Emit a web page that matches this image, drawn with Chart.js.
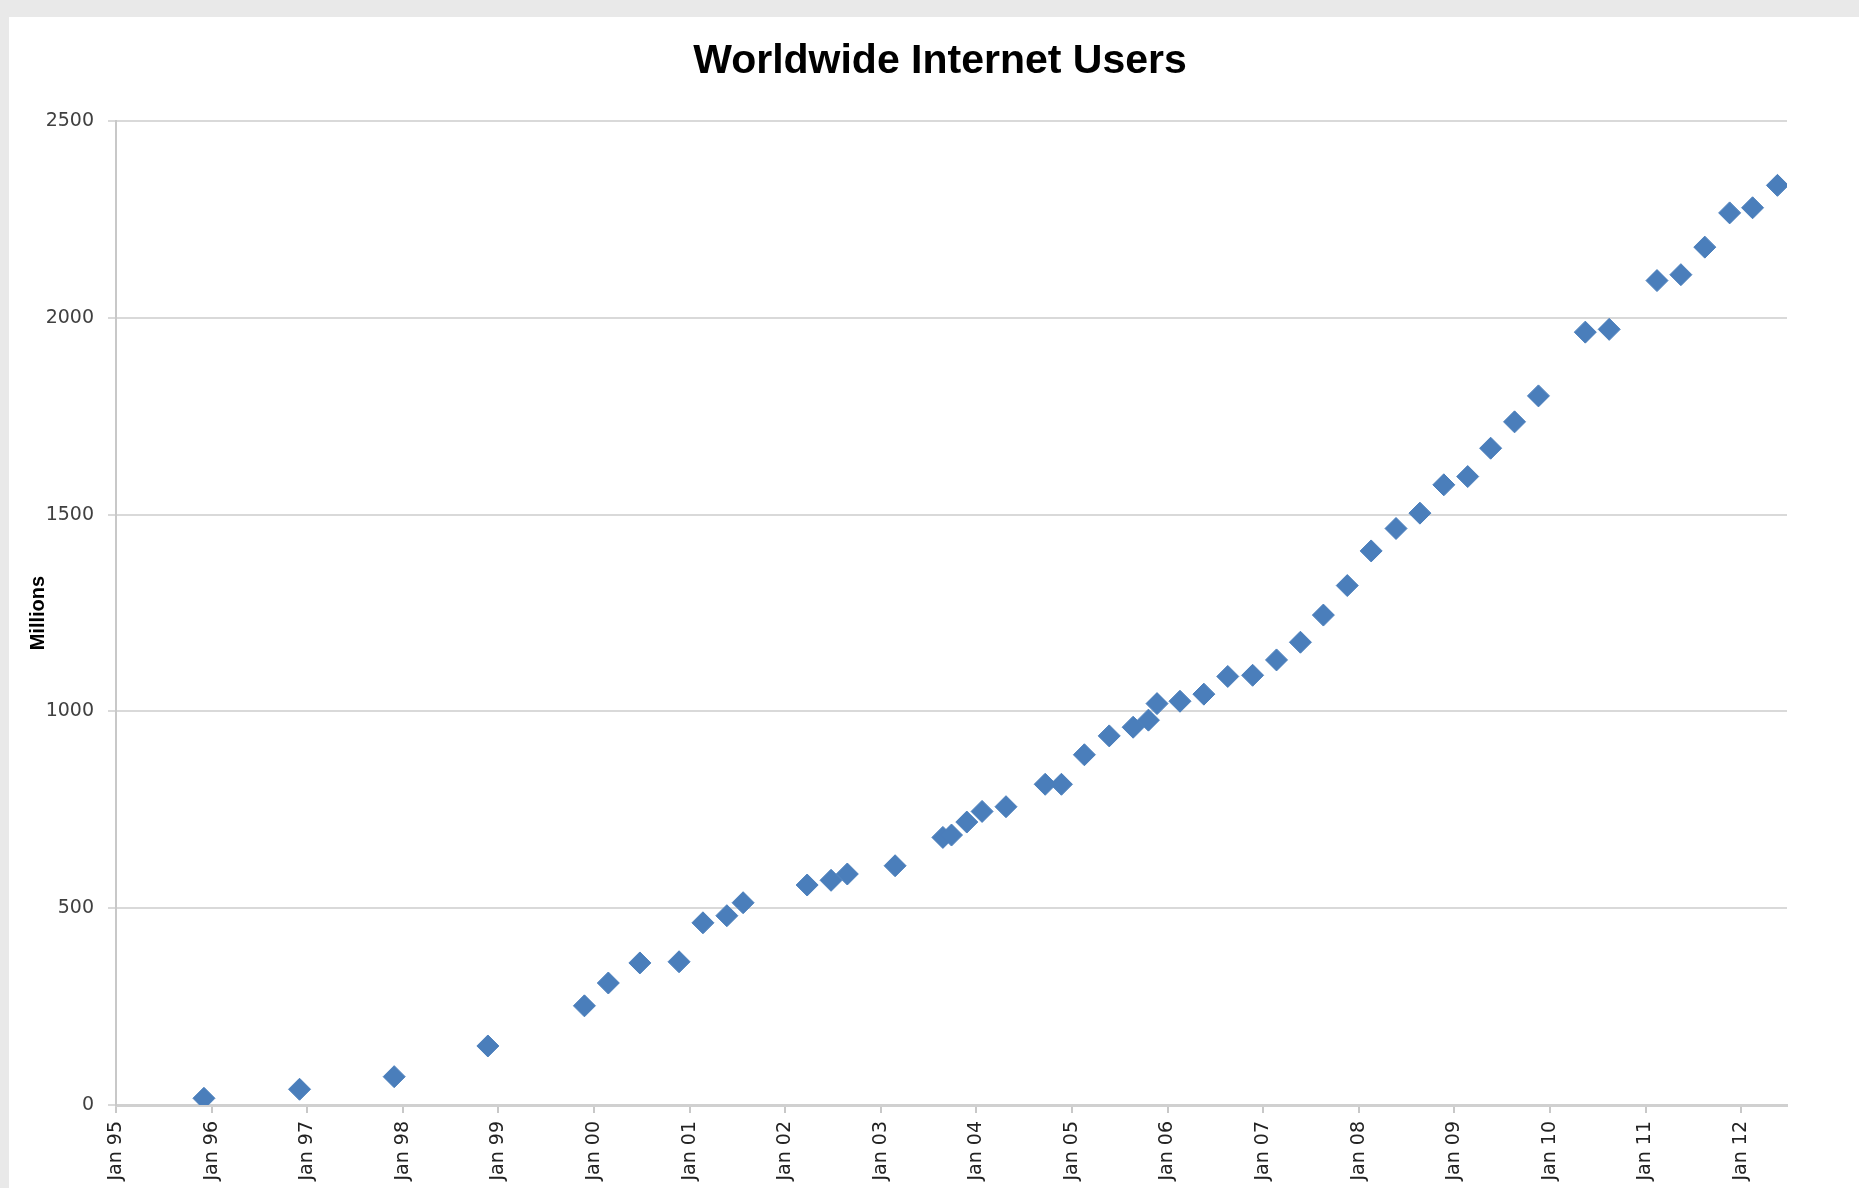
<!DOCTYPE html>
<html>
<head>
<meta charset="utf-8">
<script src="https://cdn.jsdelivr.net/npm/chart.js@4.4.1/dist/chart.umd.min.js"></script>
<style>
  html, body { margin: 0; padding: 0; width: 1859px; height: 1188px; overflow: hidden; background: #e9e9e9; }
  #panel { position: absolute; left: 9px; top: 17px; right: 0; bottom: 0; background: #fff; }
  #wrap { position: absolute; left: 0; top: 0; width: 1880px; height: 1240px; }
</style>
</head>
<body>
<div id="panel"></div>
<div id="wrap"><canvas id="myChart"></canvas></div>
<script>
// dates as decimal years
const years = [
  1995.92, 1996.92, 1997.91, 1998.89, 1999.90, 2000.15, 2000.48, 2000.89,
  2001.14, 2001.39, 2001.56, 2002.23, 2002.48, 2002.65, 2003.15, 2003.65,
  2003.74, 2003.90, 2004.06, 2004.31, 2004.72, 2004.89, 2005.13, 2005.39,
  2005.64, 2005.80, 2005.89, 2006.13, 2006.38, 2006.63, 2006.89, 2007.14,
  2007.39, 2007.63, 2007.88, 2008.13, 2008.39, 2008.64, 2008.89, 2009.14,
  2009.38, 2009.63, 2009.88, 2010.37, 2010.62, 2011.12, 2011.37, 2011.62,
  2011.88, 2012.12, 2012.38
];
// worldwide internet users, millions
const users = [
  17, 40, 72, 150, 252, 310, 361, 364,
  463, 481, 514, 559, 571, 587, 608, 680,
  686, 719, 746, 758, 815, 815, 890, 938,
  960, 978, 1020, 1026, 1044, 1089, 1092, 1131,
  1176, 1245, 1320, 1408, 1465, 1504, 1576, 1597,
  1669, 1736, 1802, 1964, 1971, 2095, 2110, 2180,
  2267, 2280, 2337
];
const tickYears = [1995, 1996, 1997, 1998, 1999, 2000, 2001, 2002, 2003,
  2004, 2005, 2006, 2007, 2008, 2009, 2010, 2011, 2012];
const yTicks = [0, 500, 1000, 1500, 2000, 2500];

let points = years.map((x, i) => ({x: x, y: users[i]}));

let ctx = document.getElementById('myChart');
new Chart(ctx, {
  type: 'scatter',
  data: {
    datasets: [{
      label: 'Users',
      data: points,
      pointStyle: 'rectRot',
      pointRadius: 11,
      pointHoverRadius: 11,
      backgroundColor: '#4a7ebb',
      borderColor: '#4a7ebb',
      borderWidth: 1
    }]
  },
  options: {
    responsive: true,
    maintainAspectRatio: false,
    animation: false,
    layout: { padding: 0 },
    plugins: {
      legend: { display: false },
      tooltip: { enabled: false },
      title: {
        display: true,
        text: 'Worldwide Internet Users',
        color: '#000',
        font: { family: '"Liberation Sans", Arial, sans-serif', size: 41, weight: 'bold' },
        padding: { top: 37, bottom: 35 }
      }
    },
    scales: {
      x: {
        type: 'linear',
        min: 1995,
        max: 2012.48,
        afterBuildTicks: s => { s.ticks = tickYears.map(v => ({value: v})); },
        afterFit: s => { s.height = 1240 - 1105; },
        ticks: {
          autoSkip: false,
          minRotation: 90,
          maxRotation: 90,
          padding: 8,
          color: '#222',
          font: { family: '"DejaVu Sans", sans-serif', size: 19 },
          callback: v => 'Jan ' + String(v % 100).padStart(2, '0')
        },
        grid: { display: true, drawOnChartArea: false, drawTicks: true, tickLength: 8, color: '#c8c8c8', lineWidth: 2 },
        border: { display: true, color: '#d0d0d0', width: 3 }
      },
      y: {
        min: 0,
        max: 2500,
        afterBuildTicks: s => { s.ticks = yTicks.map(v => ({value: v})); },
        afterFit: s => { s.width = 116; },
        title: {
          display: true,
          text: 'Millions',
          color: '#000',
          font: { family: '"Liberation Sans", Arial, sans-serif', size: 20, weight: 'bold' },
          padding: { top: 26, bottom: 0 }
        },
        ticks: {
          padding: 14,
          color: '#404040',
          font: { family: '"DejaVu Sans", sans-serif', size: 19 },
          callback: v => String(v)
        },
        grid: { color: '#d9d9d9', lineWidth: 2, drawTicks: true, tickLength: 8 },
        border: { display: true, color: '#c8c8c8', width: 2 }
      },
      // empty right-hand spacer so the plot ends where the original does
      yRight: {
        position: 'right',
        display: true,
        afterFit: s => { s.width = 1880 - 1787; },
        ticks: { display: false },
        grid: { display: false, drawTicks: false },
        border: { display: false }
      }
    }
  }
});
</script>
</body>
</html>
